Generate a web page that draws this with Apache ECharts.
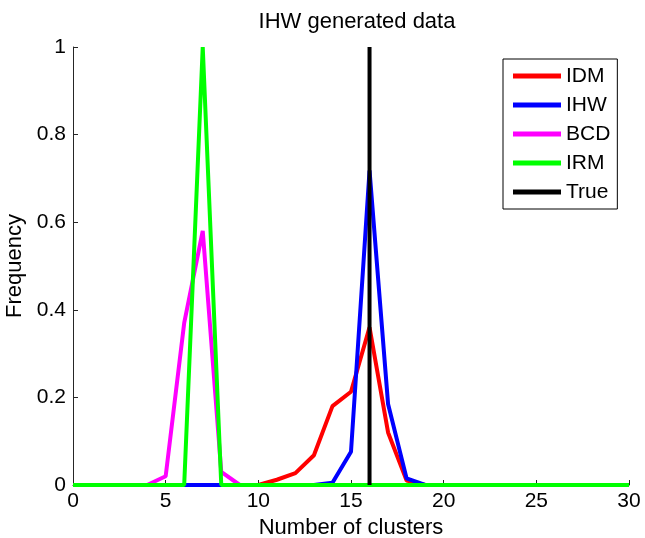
<!DOCTYPE html>
<html>
<head>
<meta charset="utf-8">
<script src="https://cdn.jsdelivr.net/npm/echarts@6/dist/echarts.min.js"></script>
<style>html,body{margin:0;padding:0;background:#fff;}#c{width:645px;height:538px;}</style>
</head>
<body>
<div id="c"></div>
<script>
var xs   = [0,1,2,3,4,5,6,7,8,9,10,11,12,13,14,15,16,17,18,19,20,21,22,23,24,25,26,27,28,29,30];
var idm  = [0,0,0,0,0,0,0,0,0,0,0,0.012,0.027,0.068,0.18,0.213,0.36,0.12,0.01,0,0,0,0,0,0,0,0,0,0,0,0];
var ihw  = [0,0,0,0,0,0,0,0,0,0,0,0,0,0,0.005,0.076,0.718,0.185,0.015,0,0,0,0,0,0,0,0,0,0,0,0];
var bcd  = [0,0,0,0,0,0.02,0.37,0.58,0.03,0,0,0,0,0,0,0,0,0,0,0,0,0,0,0,0,0,0,0,0,0,0];
var irm  = [0,0,0,0,0,0,0,1,0,0,0,0,0,0,0,0,0,0,0,0,0,0,0,0,0,0,0,0,0,0,0];
var trueX = [16,16];
var trueY = [0,1];
var names = ['IDM','IHW','BCD','IRM','True'];
var colors = ['#ff0000','#0000ff','#ff00ff','#00ff00','#000000'];

function pairs(x, y){ var o=[]; for(var i=0;i<x.length;i++) o.push([x[i],y[i]]); return o; }
var font = 'Liberation Sans, Arial, Helvetica, sans-serif';
var chart = echarts.init(document.getElementById('c'));
var sers = [idm, ihw, bcd, irm].map(function(d,i){
  return {name:names[i], type:'line', data:pairs(xs,d), showSymbol:false, symbol:'none',
    lineStyle:{width:4,color:colors[i]}, itemStyle:{color:colors[i]}, animation:false};
});
sers.push({name:'True', type:'line', data:pairs(trueX,trueY), showSymbol:false, symbol:'none',
  lineStyle:{width:4,color:colors[4]}, itemStyle:{color:colors[4]}, animation:false});

chart.setOption({
  animation:false,
  backgroundColor:'#fff',
  title:{text:'IHW generated data', left:352, top:6, textAlign:'center',
    textStyle:{fontFamily:font, fontSize:22, fontWeight:'normal', color:'#000'}},
  grid:{left:73, right:16, top:47, bottom:53, containLabel:false, outerBoundsMode:'none'},
  legend:{orient:'vertical', left:503, top:59, data:names,
    icon:'rect', itemWidth:48, itemHeight:5, itemGap:5,
    padding:[5,7,5,10], borderColor:'#000', borderWidth:1, backgroundColor:'#fff',
    textStyle:{fontFamily:font, fontSize:21, color:'#000', lineHeight:24}},
  xAxis:{type:'value', min:0, max:30, interval:5,
    name:'Number of clusters', nameLocation:'middle', nameGap:22,
    nameTextStyle:{fontFamily:font, fontSize:22, color:'#000'},
    axisLine:{show:true, lineStyle:{color:'#262626', width:1}},
    axisTick:{show:true, inside:true, length:5, lineStyle:{color:'#262626'}},
    axisLabel:{fontFamily:font, fontSize:21, color:'#000', margin:6},
    splitLine:{show:false}},
  yAxis:{type:'value', min:0, max:1, interval:0.2,
    name:'Frequency', nameLocation:'middle', nameGap:41, nameRotate:90,
    nameTextStyle:{fontFamily:font, fontSize:22, color:'#000'},
    axisLine:{show:true, lineStyle:{color:'#262626', width:1}},
    axisTick:{show:true, inside:true, length:5, lineStyle:{color:'#262626'}},
    axisLabel:{fontFamily:font, fontSize:21, color:'#000', margin:7},
    splitLine:{show:false}},
  series:sers
});
</script>
</body>
</html>
